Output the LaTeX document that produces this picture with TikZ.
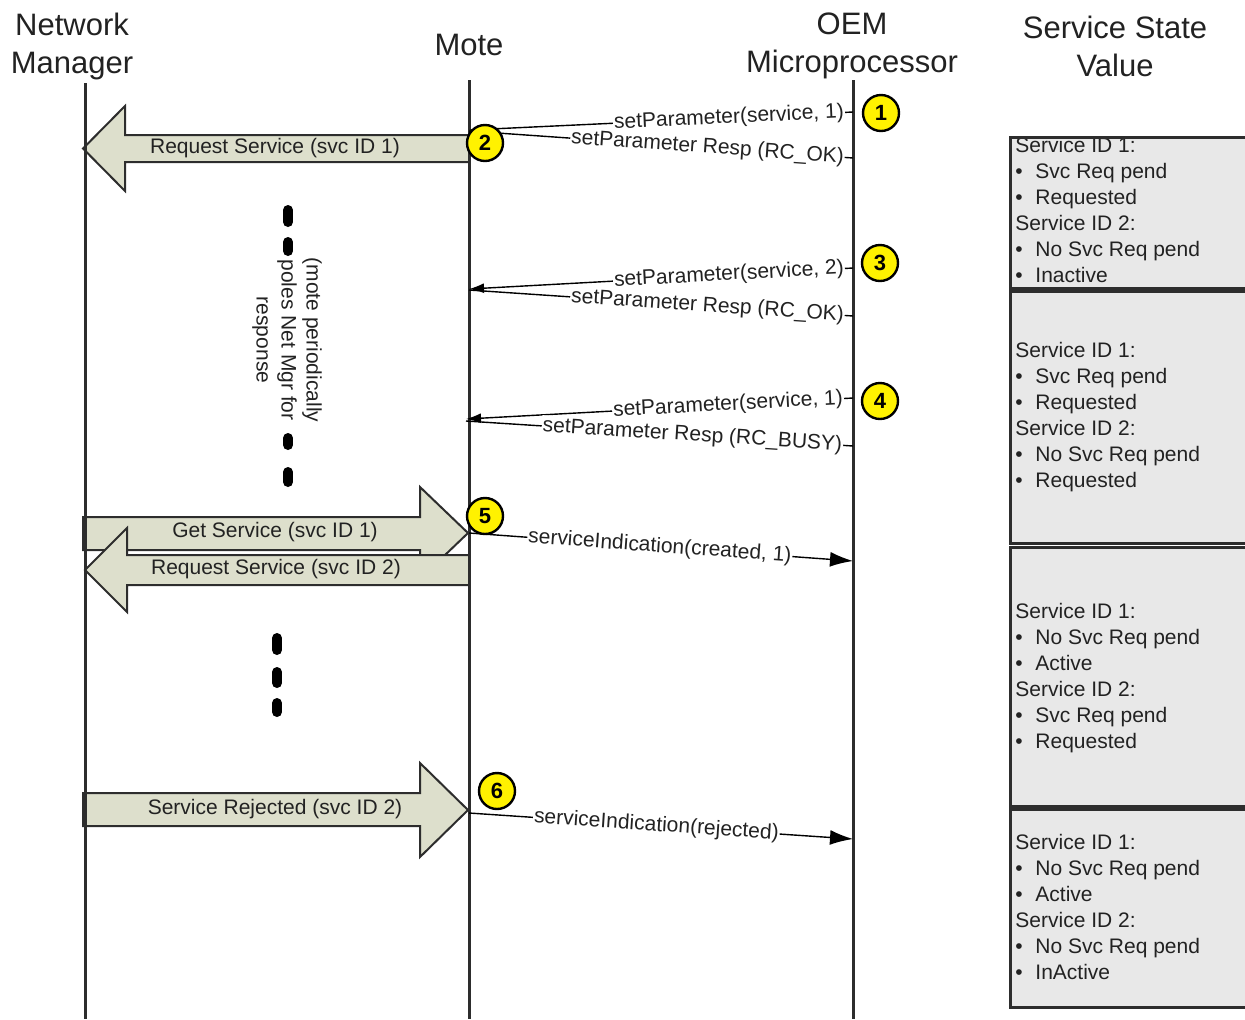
\documentclass[tikz,border=0pt]{standalone}
\usepackage{fontspec}
\setmainfont{Liberation Sans}
\usetikzlibrary{arrows.meta}
\definecolor{ink}{RGB}{34,34,34}
\definecolor{lifeclr}{RGB}{45,45,45}
\definecolor{blkfill}{RGB}{221,223,204}
\definecolor{boxfill}{RGB}{232,232,232}
\newcommand\bltx{\makebox[10pt][l]{\textbullet}}
\begin{document}
\begin{tikzpicture}[x=0.5pt,y=-0.5pt,
 lifeline/.style={draw=lifeclr, line width=1.5pt},
 hdr/.style={font=\fontsize{15.5}{19}\selectfont, text=ink, align=center, inner sep=0pt},
 msg/.style={draw=black, line width=0.7pt},
 msglbl/.style={sloped, fill=white, inner sep=0.5pt, font=\fontsize{10.5}{12}\selectfont, text=ink},
 blk/.style={draw=lifeclr, fill=blkfill, line width=1pt, line join=miter},
 blklbl/.style={font=\fontsize{10.5}{12}\selectfont, text=ink, inner sep=0pt},
 numc/.style={circle, draw=black, line width=1.2pt, fill=yellow, minimum size=18pt, inner sep=0pt, font=\bfseries\fontsize{11}{12}\selectfont},
 dotmark/.style={line width=5pt, line cap=round, draw=black},
 stbox/.style={fill=boxfill},
 stborder/.style={draw=lifeclr, line width=1.5pt},
 sttxt/.style={font=\fontsize{10.5}{13}\selectfont, text=ink, inner sep=0pt, anchor=base west},
 tipL/.style={-{Latex[length=11.5pt,width=7.5pt]}},
 tipS/.style={-{Latex[length=7.5pt,width=5pt]}}
]
\useasboundingbox (0,0) rectangle (1245,1019);

% headers
\node[hdr] (hNM) at (72,46) {Network\\Manager};
\node[hdr] (hMote) at (469,45) {Mote};
\node[hdr] (hOEM) at (852,46) {OEM\\Microprocessor};
\node[hdr] (hSSV) at (1115,46) {Service State\\Value};

% state boxes
\fill[stbox] (1010,137) rectangle (1250,288);
\fill[stbox] (1010,291) rectangle (1250,543);
\fill[stbox] (1010,547) rectangle (1250,806);
\fill[stbox] (1010,809) rectangle (1250,1007);

\foreach \t [count=\k] in {Service ID 1:,\bltx Svc Req pend,\bltx Requested,Service ID 2:,\bltx No Svc Req pend,\bltx Inactive}
  \node[sttxt] (sa\k) at (1015,{152+26*(\k-1)}) {\t};
\foreach \t [count=\k] in {Service ID 1:,\bltx Svc Req pend,\bltx Requested,Service ID 2:,\bltx No Svc Req pend,\bltx Requested}
  \node[sttxt] (sb\k) at (1015,{357+26*(\k-1)}) {\t};
\foreach \t [count=\k] in {Service ID 1:,\bltx No Svc Req pend,\bltx Active,Service ID 2:,\bltx Svc Req pend,\bltx Requested}
  \node[sttxt] (sc\k) at (1015,{618+26*(\k-1)}) {\t};
\foreach \t [count=\k] in {Service ID 1:,\bltx No Svc Req pend,\bltx Active,Service ID 2:,\bltx No Svc Req pend,\bltx InActive}
  \node[sttxt] (sd\k) at (1015,{849+26*(\k-1)}) {\t};

\draw[stborder] (1010,137) rectangle (1250,288);
\draw[stborder] (1010,291) rectangle (1250,543);
\draw[stborder] (1010,547) rectangle (1250,806);
\draw[stborder] (1010,809) rectangle (1250,1007);

% lifelines
\coordinate (nmT) at (85,83);  \coordinate (nmB) at (85,1019);
\coordinate (moT) at (469,80); \coordinate (moB) at (469,1019);
\coordinate (mpT) at (853,80); \coordinate (mpB) at (853,1019);

% block arrows
\draw[blk] (469,135) -- (125,135) -- (125,106) -- (83,148.5) -- (125,191) -- (125,162) -- (469,162) -- cycle;
\node[blklbl] (a1) at (275,148) {Request Service (svc ID 1)};
\draw[blk] (83,517) -- (420,517) -- (420,487) -- (468,533) -- (420,579) -- (420,550) -- (83,550) -- cycle;
\node[blklbl] (a2) at (275,532) {Get Service (svc ID 1)};
\draw[blk] (469,555) -- (127,555) -- (127,528) -- (85,570) -- (127,612) -- (127,585) -- (469,585) -- cycle;
\node[blklbl] (a3) at (276,569) {Request Service (svc ID 2)};
\draw[blk] (83,793) -- (420,793) -- (420,763) -- (468,810) -- (420,857) -- (420,826) -- (83,826) -- cycle;
\node[blklbl] (a4) at (275,809) {Service Rejected (svc ID 2)};

\draw[lifeline] (nmT) -- (nmB);
\draw[lifeline] (moT) -- (moB);
\draw[lifeline] (mpT) -- (mpB);

% messages
\coordinate (q1m) at (853,112); \coordinate (q1o) at (469,130);
\coordinate (r1o) at (469,131); \coordinate (r1m) at (853,158);
\coordinate (q3m) at (853,268); \coordinate (q3o) at (469,289);
\coordinate (r3o) at (469,290); \coordinate (r3m) at (853,316);
\coordinate (q4m) at (853,398); \coordinate (q4o) at (466,419);
\coordinate (r4o) at (466,421); \coordinate (r4m) at (853,446);
\coordinate (s5o) at (469,533); \coordinate (s5m) at (853,561);
\coordinate (s6o) at (469,813); \coordinate (s6m) at (853,839);

\draw[msg, tipS] (q1m) -- node[msglbl, pos=0.323] (t1) {setParameter(service, 1)} (q1o);
\draw[msg] (r1o) -- node[msglbl, pos=0.621] (u1) {setParameter Resp (RC\_OK)} (r1m);
\draw[msg, tipS] (q3m) -- node[msglbl, pos=0.323] (t3) {setParameter(service, 2)} (q3o);
\draw[msg] (r3o) -- node[msglbl, pos=0.621] (u3) {setParameter Resp (RC\_OK)} (r3m);
\draw[msg, tipS] (q4m) -- node[msglbl, pos=0.323] (t4) {setParameter(service, 1)} (q4o);
\draw[msg] (r4o) -- node[msglbl, pos=0.585] (u4) {setParameter Resp (RC\_BUSY)} (r4m);
\draw[msg, tipL] (s5o) -- node[msglbl, pos=0.497] (t5) {serviceIndication(created, 1)} (s5m);
\draw[msg, tipL] (s6o) -- node[msglbl, pos=0.488] (t6) {serviceIndication(rejected)} (s6m);

% polling note
\draw[dotmark] (288,210) -- (288,222);
\draw[dotmark] (288,242) -- (288,251);
\draw[dotmark] (288,438) -- (288,445);
\draw[dotmark] (288,472) -- (288,482);
\node[rotate=-90, align=center, inner sep=0pt, text=ink, font=\fontsize{10.5}{12.5}\selectfont] (poll) at (287,340) {(mote periodically\\poles Net Mgr for\\response};
\draw[dotmark] (277,638) -- (277,650);
\draw[dotmark] (277,672) -- (277,683);
\draw[dotmark] (277,703) -- (277,712);

% step circles
\node[numc] (c1) at (881,113) {1};
\node[numc] (c2) at (485,143) {2};
\node[numc] (c3) at (880,263) {3};
\node[numc] (c4) at (880,401) {4};
\node[numc] (c5) at (485,516) {5};
\node[numc] (c6) at (497,791) {6};
\end{tikzpicture}
\end{document}
